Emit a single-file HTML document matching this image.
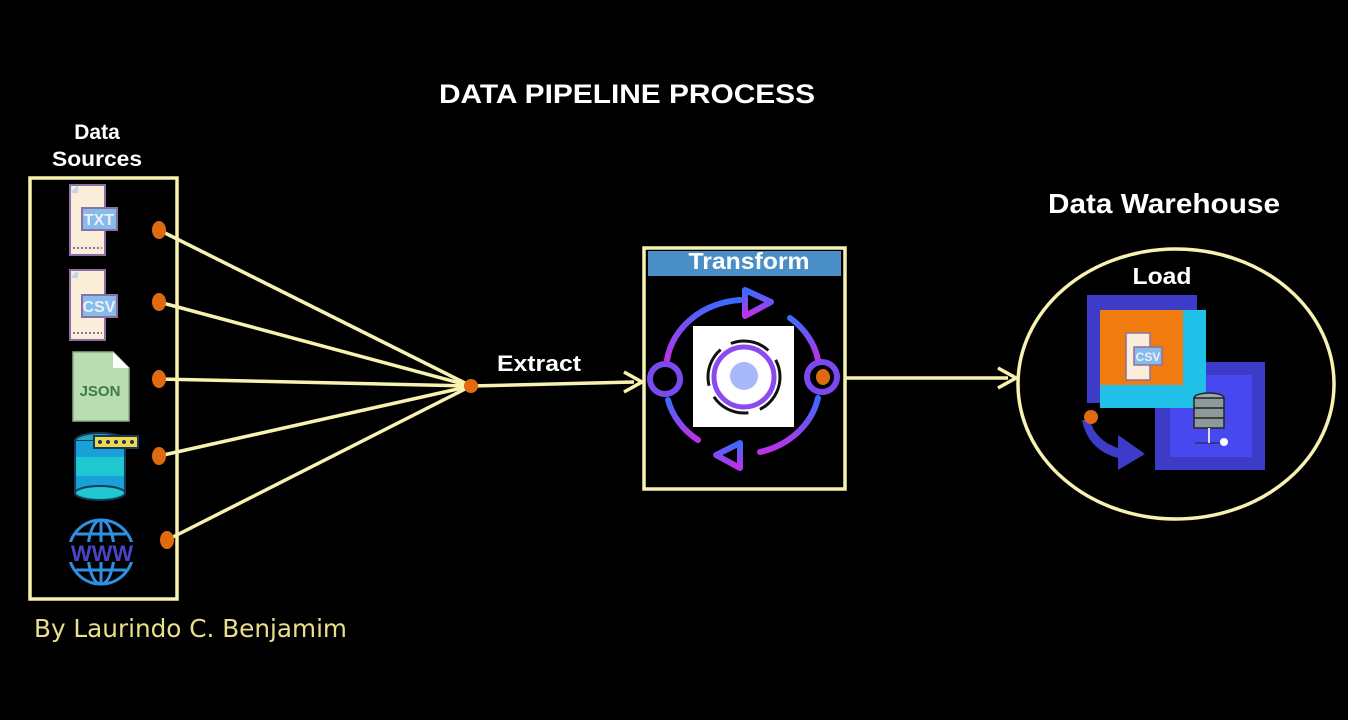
<!DOCTYPE html>
<html><head><meta charset="utf-8"><style>
html,body{margin:0;padding:0;background:#000;}
svg{display:block;}
text{font-family:"Liberation Sans",sans-serif;font-weight:bold;fill:#fff;}
</style></head><body>
<svg width="1348" height="720" viewBox="0 0 1348 720" xmlns="http://www.w3.org/2000/svg">
<rect width="1348" height="720" fill="#000"/>
<text x="627" y="103" font-size="27" text-anchor="middle" textLength="376" lengthAdjust="spacingAndGlyphs">DATA PIPELINE PROCESS</text>
<text x="97" y="139" font-size="21" text-anchor="middle">Data</text>
<text x="97" y="166" font-size="21" text-anchor="middle" textLength="90" lengthAdjust="spacingAndGlyphs">Sources</text>
<rect x="30" y="178" width="147" height="421" fill="none" stroke="#f7f2b0" stroke-width="3.5"/>
<!-- TXT icon -->
<g>
<path d="M70 185 h35 v70 h-35 v-62 z" fill="#fbeed8" stroke="#8d6fa8" stroke-width="2"/>
<path d="M70 193 l8 -8 v8 z" fill="#bcd7ee"/>
<rect x="82" y="208" width="35" height="22" fill="#86bde8" stroke="#8d6fa8" stroke-width="2"/>
<text x="99" y="225" font-size="16" text-anchor="middle" style="fill:#eef">TXT</text>
<line x1="73" y1="248" x2="102" y2="248" stroke="#8d6fa8" stroke-width="2" stroke-dasharray="2 2"/>
</g>
<g>
<path d="M70 270 h35 v70 h-35 v-62 z" fill="#fbeed8" stroke="#8d6fa8" stroke-width="2"/>
<path d="M70 278 l8 -8 v8 z" fill="#bcd7ee"/>
<rect x="82" y="295" width="35" height="22" fill="#86bde8" stroke="#8d6fa8" stroke-width="2"/>
<text x="99" y="312" font-size="16" text-anchor="middle" style="fill:#eef">CSV</text>
<line x1="73" y1="333" x2="102" y2="333" stroke="#8d6fa8" stroke-width="2" stroke-dasharray="2 2"/>
</g>
<!-- JSON -->
<path d="M73 352 h40 l16 16 v53 h-56 z" fill="#b9ddb0" stroke="#8ab07e" stroke-width="1.5"/>
<path d="M113 352 v16 h16 z" fill="#fff"/>
<text x="100" y="396" font-size="15" text-anchor="middle" style="fill:#3f7a45">JSON</text>
<!-- DB -->
<ellipse cx="100" cy="441" rx="25" ry="8" fill="#1fa7c4" stroke="#143a5a" stroke-width="2"/>
<rect x="75" y="441" width="50" height="52" fill="#1fc7d0" stroke="#143a5a" stroke-width="2"/>
<rect x="76" y="441" width="48" height="16" fill="#1aa0d8"/>
<rect x="76" y="476" width="48" height="16" fill="#1aa0d8"/>
<ellipse cx="100" cy="493" rx="25" ry="7" fill="#1fc7d0" stroke="#143a5a" stroke-width="2"/>
<rect x="94" y="436" width="44" height="12" fill="#f3d64a" stroke="#143a5a" stroke-width="2"/>
<g fill="#143a5a"><circle cx="100" cy="442" r="2"/><circle cx="108" cy="442" r="2"/><circle cx="116" cy="442" r="2"/><circle cx="124" cy="442" r="2"/><circle cx="132" cy="442" r="2"/></g>
<!-- WWW globe -->
<g fill="none" stroke="#2f8fe0" stroke-width="3">
<circle cx="101" cy="552" r="32"/>
<ellipse cx="101" cy="552" rx="13" ry="32"/>
<line x1="101" y1="520" x2="101" y2="584"/>
<line x1="76" y1="534" x2="126" y2="534"/>
<line x1="76" y1="570" x2="126" y2="570"/>
</g>
<rect x="66" y="542" width="72" height="20" fill="#000"/>
<text x="102" y="561" font-size="22" text-anchor="middle" style="fill:#4a45c8">WWW</text>
<!-- connectors -->
<g stroke="#f7f2b0" stroke-width="3.5" fill="none">
<line x1="159" y1="230" x2="471" y2="386"/>
<line x1="159" y1="302" x2="471" y2="386"/>
<line x1="159" y1="379" x2="471" y2="386"/>
<line x1="159" y1="456" x2="471" y2="386"/>
<line x1="167" y1="540" x2="471" y2="386"/>
<line x1="471" y1="386" x2="634" y2="382"/>
<line x1="845" y1="378" x2="1008" y2="378"/>
</g>
<path d="M624 372 L642 382 L624 392" fill="none" stroke="#f7f2b0" stroke-width="3.5"/>
<path d="M998 368 L1016 378 L998 388" fill="none" stroke="#f7f2b0" stroke-width="3.5"/>
<g fill="#e06a10">
<ellipse cx="159" cy="230" rx="7" ry="9"/>
<ellipse cx="159" cy="302" rx="7" ry="9"/>
<ellipse cx="159" cy="379" rx="7" ry="9"/>
<ellipse cx="159" cy="456" rx="7" ry="9"/>
<ellipse cx="167" cy="540" rx="7" ry="9"/>
<circle cx="471" cy="386" r="7"/>
</g>
<text x="539" y="371" font-size="22" text-anchor="middle" textLength="84" lengthAdjust="spacingAndGlyphs">Extract</text>
<!-- Transform -->
<rect x="644" y="248" width="201" height="241" fill="#000" stroke="#f7f2b0" stroke-width="3.5"/>
<rect x="648" y="251" width="193" height="25" fill="#4a8ec8"/>
<text x="749" y="269" font-size="23" text-anchor="middle" textLength="121" lengthAdjust="spacingAndGlyphs">Transform</text>
<defs><linearGradient id="g1" x1="0" y1="0" x2="0" y2="1"><stop offset="0" stop-color="#3a6bff"/><stop offset="1" stop-color="#c030e8"/></linearGradient></defs>
<g fill="none" stroke="url(#g1)" stroke-width="6" stroke-linecap="round">
<path d="M667 360 A80 70 0 0 1 740 300"/>
<path d="M790 318 A80 70 0 0 1 818 360"/>
<path d="M818 398 A80 70 0 0 1 760 452"/>
<path d="M698 440 A80 70 0 0 1 668 400"/>
<path d="M745 290 L771 302 L745 316 Z" stroke-linejoin="round"/>
<path d="M740 443 L716 455 L740 468 Z" stroke-linejoin="round"/>
</g>
<circle cx="665" cy="379" r="15" fill="#000" stroke="#7a4af0" stroke-width="6"/>
<circle cx="822" cy="377" r="15" fill="#000" stroke="#7a4af0" stroke-width="6"/>
<ellipse cx="823" cy="377" rx="7" ry="8" fill="#e06a10"/>
<rect x="693" y="326" width="101" height="101" fill="#fff"/>
<circle cx="744" cy="377" r="36" fill="none" stroke="#111" stroke-width="3" stroke-dasharray="40 12"/>
<circle cx="744" cy="377" r="30" fill="#fff" stroke="#8a4af0" stroke-width="5"/>
<circle cx="744" cy="376" r="14" fill="#a8b8f8"/>
<!-- Data Warehouse -->
<text x="1164" y="213" font-size="28" text-anchor="middle" textLength="232" lengthAdjust="spacingAndGlyphs">Data Warehouse</text>
<ellipse cx="1176" cy="384" rx="158" ry="135" fill="none" stroke="#f7f2b0" stroke-width="3.5"/>
<text x="1162" y="284" font-size="23" text-anchor="middle" textLength="59" lengthAdjust="spacingAndGlyphs">Load</text>
<rect x="1155" y="362" width="110" height="108" fill="#3c3cc8"/>
<rect x="1170" y="375" width="82" height="82" fill="#4848f0"/>
<rect x="1087" y="295" width="110" height="108" fill="#3c3cc8"/>
<rect x="1100" y="310" width="106" height="98" fill="#20c0e8"/>
<rect x="1100" y="310" width="83" height="75" fill="#f07c10"/>
<path d="M1126 333 h24 v47 h-24 v-40 z" fill="#fbeed8" stroke="#8d6fa8" stroke-width="1.5"/>
<rect x="1134" y="347" width="28" height="18" fill="#86bde8" stroke="#8d6fa8" stroke-width="1.5"/>
<text x="1148" y="361" font-size="12" text-anchor="middle" style="fill:#eef">CSV</text>
<ellipse cx="1209" cy="398" rx="15" ry="5" fill="#9aa" stroke="#222" stroke-width="1.5"/>
<rect x="1194" y="398" width="30" height="30" fill="#8c9a9c" stroke="#222" stroke-width="1.5"/>
<line x1="1194" y1="408" x2="1224" y2="408" stroke="#222" stroke-width="1.5"/>
<line x1="1194" y1="418" x2="1224" y2="418" stroke="#222" stroke-width="1.5"/>
<line x1="1195" y1="443" x2="1222" y2="443" stroke="#222" stroke-width="1"/>
<line x1="1209" y1="428" x2="1209" y2="443" stroke="#ddd" stroke-width="2"/>
<circle cx="1224" cy="442" r="4" fill="#fff"/>
<path d="M1090 420 Q1095 440 1118 448 L1118 435 L1145 454 L1118 470 L1118 458 Q1088 450 1082 420 Z" fill="#3c3cc8"/>
<circle cx="1091" cy="417" r="7" fill="#e06a10"/>
<text x="34" y="637" font-size="25" textLength="313" lengthAdjust="spacingAndGlyphs" style="font-family:'DejaVu Sans',sans-serif;font-weight:normal;fill:#e8e08a">By Laurindo C. Benjamim</text>
</svg>
</body></html>
